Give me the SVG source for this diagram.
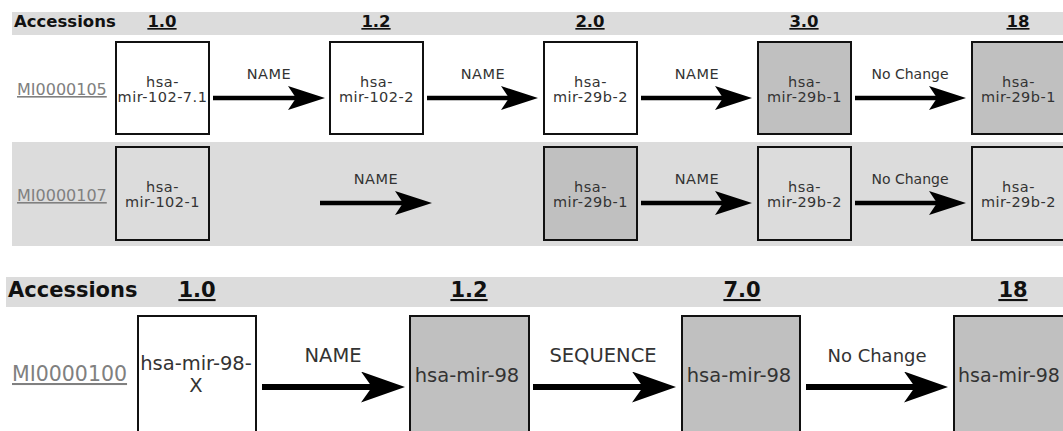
<svg xmlns="http://www.w3.org/2000/svg" width="1063" height="431" viewBox="0 0 1063 431">
  <style>
    .bar { fill: #dcdcdc; }
    .hdr { font-family: "DejaVu Sans", Verdana, sans-serif; font-weight: bold; fill: #111; }
    .ver { text-decoration: underline; text-anchor: middle; }
    .acc { font-family: "DejaVu Sans", Verdana, sans-serif; fill: #808080; text-decoration: underline; }
    .box { stroke: #111; stroke-width: 2; }
    .white { fill: #ffffff; }
    .light { fill: #dcdcdc; }
    .dark { fill: #c0c0c0; }
    .lbl { font-family: "DejaVu Sans", Verdana, sans-serif; fill: #333; text-anchor: middle; }
    .s1 { font-size: 14.5px; letter-spacing: 0.5px; }
    .s2 { font-size: 19.5px; }
    .line1 { stroke: #000; stroke-width: 4.5; fill: none; marker-end: url(#headSmall); }
    .line2 { stroke: #000; stroke-width: 6; fill: none; marker-end: url(#headLarge); }
  </style>
  <defs>
    <marker id="headSmall" markerUnits="userSpaceOnUse" viewBox="0 0 37 24" markerWidth="37" markerHeight="24" refX="8" refY="12" orient="auto">
      <path d="M0,0 L37,12 L0,24 L8,12 Z" fill="#000"/>
    </marker>
    <marker id="headLarge" markerUnits="userSpaceOnUse" viewBox="0 0 44 31" markerWidth="44" markerHeight="31" refX="11" refY="15.5" orient="auto">
      <path d="M0,0 L44,15.5 L0,31 L11,15.5 Z" fill="#000"/>
    </marker>
  </defs>

  <!-- upper table: header and row backgrounds -->
  <rect class="bar" x="12" y="12" width="1051" height="23"/>
  <rect class="bar" x="12" y="142" width="1051" height="104"/>
  <g id="upper-header" class="hdr" font-size="16.5">
    <text x="14" y="27">Accessions</text>
    <text class="ver" x="162" y="27">1.0</text>
    <text class="ver" x="376" y="27">1.2</text>
    <text class="ver" x="590" y="27">2.0</text>
    <text class="ver" x="804" y="27">3.0</text>
    <text class="ver" x="1018" y="27">18</text>
  </g>
  <text id="acc-MI0000105" class="acc" x="17" y="95" font-size="16">MI0000105</text>
  <text id="acc-MI0000107" class="acc" x="17" y="201" font-size="16">MI0000107</text>

  <!-- upper table: row MI0000105 -->
  <g id="r1n1"><rect class="box white" x="116" y="42" width="93" height="92"/><text class="lbl s1" x="162.5" y="87">hsa-</text><text class="lbl s1" x="162.5" y="102">mir-102-7.1</text></g>
  <g id="r1n2"><rect class="box white" x="330" y="42" width="93" height="92"/><text class="lbl s1" x="376.5" y="87">hsa-</text><text class="lbl s1" x="376.5" y="102">mir-102-2</text></g>
  <g id="r1n3"><rect class="box white" x="544" y="42" width="93" height="92"/><text class="lbl s1" x="590.5" y="87">hsa-</text><text class="lbl s1" x="590.5" y="102">mir-29b-2</text></g>
  <g id="r1n4"><rect class="box dark" x="758" y="42" width="93" height="92"/><text class="lbl s1" x="804.5" y="87">hsa-</text><text class="lbl s1" x="804.5" y="102">mir-29b-1</text></g>
  <g id="r1n5"><rect class="box dark" x="972" y="42" width="93" height="92"/><text class="lbl s1" x="1018.5" y="87">hsa-</text><text class="lbl s1" x="1018.5" y="102">mir-29b-1</text></g>

  <!-- upper table: row MI0000107 -->
  <g id="r2n1"><rect class="box light" x="116" y="147" width="93" height="93"/><text class="lbl s1" x="162.5" y="192">hsa-</text><text class="lbl s1" x="162.5" y="207">mir-102-1</text></g>
  <g id="r2n3"><rect class="box dark" x="544" y="147" width="93" height="93"/><text class="lbl s1" x="590.5" y="192">hsa-</text><text class="lbl s1" x="590.5" y="207">mir-29b-1</text></g>
  <g id="r2n4"><rect class="box light" x="758" y="147" width="93" height="93"/><text class="lbl s1" x="804.5" y="192">hsa-</text><text class="lbl s1" x="804.5" y="207">mir-29b-2</text></g>
  <g id="r2n5"><rect class="box light" x="972" y="147" width="93" height="93"/><text class="lbl s1" x="1018.5" y="192">hsa-</text><text class="lbl s1" x="1018.5" y="207">mir-29b-2</text></g>

  <!-- lower table -->
  <rect class="bar" x="6" y="277" width="1057" height="30"/>
  <g id="lower-header" class="hdr" font-size="21">
    <text x="8" y="297">Accessions</text>
    <text class="ver" x="197" y="297">1.0</text>
    <text class="ver" x="469" y="297">1.2</text>
    <text class="ver" x="742" y="297">7.0</text>
    <text class="ver" x="1013" y="297">18</text>
  </g>
  <text id="acc-MI0000100" class="acc" x="12" y="381" font-size="20.5">MI0000100</text>

  <g id="r3n1"><rect class="box white" x="138" y="316" width="118" height="120"/><text class="lbl s2" x="196" y="370">hsa-mir-98-</text><text class="lbl s2" x="196" y="392">X</text></g>
  <g id="r3n2"><rect class="box dark" x="410" y="316" width="119" height="120"/><text class="lbl s2" x="467" y="382">hsa-mir-98</text></g>
  <g id="r3n3"><rect class="box dark" x="682" y="316" width="118" height="120"/><text class="lbl s2" x="739" y="382">hsa-mir-98</text></g>
  <g id="r3n4"><rect class="box dark" x="954" y="316" width="118" height="120"/><text class="lbl" x="1009" y="382" font-size="19">hsa-mir-98</text></g>

  <!-- connectors -->
  <g id="connectors">
    <line class="line1" x1="213" y1="98" x2="296" y2="98"/>
    <line class="line1" x1="427" y1="98" x2="509" y2="98"/>
    <line class="line1" x1="641" y1="98" x2="723" y2="98"/>
    <line class="line1" x1="855" y1="98" x2="937" y2="98"/>
    <line class="line1" x1="320" y1="203" x2="403" y2="203"/>
    <line class="line1" x1="641" y1="203" x2="723" y2="203"/>
    <line class="line1" x1="855" y1="203" x2="937" y2="203"/>
    <line class="line2" x1="262" y1="387" x2="372" y2="387"/>
    <line class="line2" x1="533" y1="387" x2="643" y2="387"/>
    <line class="line2" x1="806" y1="387" x2="915" y2="387"/>
    <g class="lbl" font-size="14.5">
      <text x="269" y="79" letter-spacing="0.5">NAME</text>
      <text x="483" y="79" letter-spacing="0.5">NAME</text>
      <text x="697" y="79" letter-spacing="0.5">NAME</text>
      <text x="910" y="79" font-size="14">No Change</text>
      <text x="376" y="184" letter-spacing="0.5">NAME</text>
      <text x="697" y="184" letter-spacing="0.5">NAME</text>
      <text x="910" y="184" font-size="14">No Change</text>
    </g>
    <g class="lbl" font-size="19.5">
      <text x="333" y="362">NAME</text>
      <text x="603" y="362">SEQUENCE</text>
      <text x="877" y="362" font-size="18">No Change</text>
    </g>
  </g>
</svg>
